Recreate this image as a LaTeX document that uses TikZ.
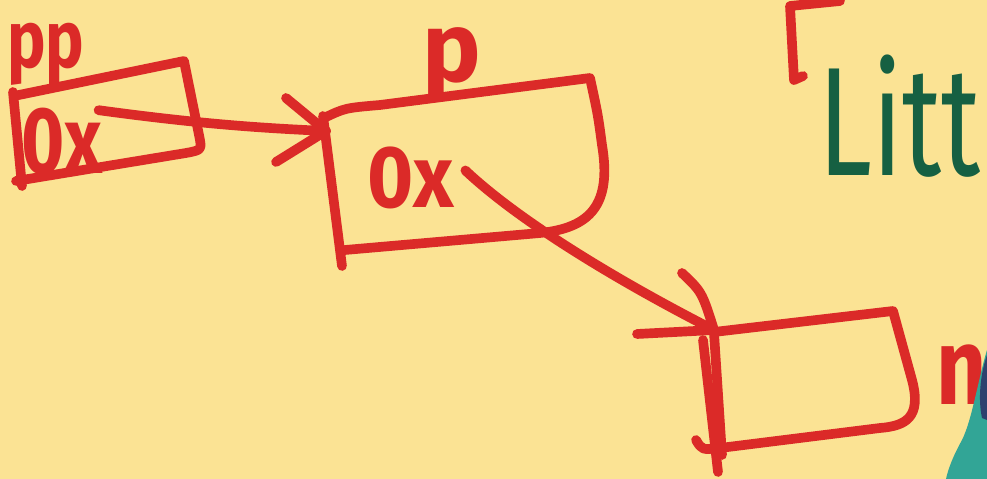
\documentclass[tikz,border=0pt]{standalone}
\usepackage{fontspec}
\setmainfont{Fira Sans}

\definecolor{paper}{RGB}{251,227,148}
\definecolor{inkred}{RGB}{219,42,40}
\definecolor{inkgreen}{RGB}{22,96,66}
\definecolor{bleed}{RGB}{50,165,150}
\definecolor{bleeddark}{RGB}{45,65,110}

\begin{document}
\begin{tikzpicture}[
    x=0.02cm,
    y=-0.02cm,
    ink/.style={draw=inkred, line width=5.5pt, line cap=round, line join=round},
    ink text/.style={text=inkred, inner sep=0pt, font=\fontsize{#1}{#1}\selectfont\bfseries}
]

% 1. Paper
\useasboundingbox (0,0) rectangle (987,479);
\clip (0,0) rectangle (987,479);
\fill[paper] (0,0) rectangle (987,479);

% 2. Labels
\node[ink text=46pt, xscale=0.8, anchor=base] (pp1) at (46,68) {pp};
\node[ink text=54pt, xscale=0.78, anchor=base] (ox1) at (62,174) {0x};
\node[ink text=56pt, anchor=base] (p2) at (452,82) {p};
\node[ink text=50pt, xscale=0.9, anchor=base] (ox2) at (411,208) {0x};
\node[ink text=62pt, xscale=0.8, anchor=base west] (nlab) at (936,404) {n};
\node[anchor=base west, inner sep=0pt, text=inkgreen, xscale=0.7,
    font=\fontsize{88pt}{88pt}\selectfont] (title) at (818,176) {Litt};

% 3. Boxes
% pp box
\draw[ink] (14,96) -- (184,61) -- (199,135)
    .. controls (202,150) .. (186,153) -- (16,181);
\draw[ink] (13,92) -- (22,186);
% p box
\draw[ink] (324,118) .. controls (345,108) .. (380,105) -- (590,78)
    .. controls (598,115) .. (602,145) .. controls (612,205) and (590,228) .. (540,233)
    -- (345,250);
\draw[ink] (323,116) -- (342,266);
% third box
\draw[ink] (714,332) -- (893,311) -- (912,380)
    .. controls (922,418) and (905,426) .. (880,428) -- (720,448)
    .. controls (702,450) .. (696,440);
\draw[ink] (703,340) -- (718,472);
\draw[ink] (714,333) -- (722,455);
% box at top right, cut off
\draw[ink] (840,1) -- (790,6) -- (794,80) -- (803,76);

% 4. Pointers
\coordinate (tip1) at (326,131);
\coordinate (tip2) at (714,330);
\draw[ink] ([shift={(-4,2)}]ox1.north east) .. controls (200,124) and (260,128) .. (tip1);
\draw[ink] (286,98) -- (tip1) -- (276,162);
\draw[ink] ([shift={(11,-8)}]ox2.east) .. controls (520,222) and (620,282) .. (tip2);
\draw[ink] (682,273) .. controls (702,292) .. (tip2) -- (637,334);

% 5. Ink bleed, bottom right
\fill[bleed] (987,350) .. controls (978,380) and (972,420) .. (962,440)
    .. controls (952,458) and (948,470) .. (946,479) -- (987,479) -- cycle;
\fill[bleeddark] (987,355) .. controls (980,375) and (978,400) .. (982,418)
    -- (987,420) -- cycle;

\end{tikzpicture}
\end{document}
